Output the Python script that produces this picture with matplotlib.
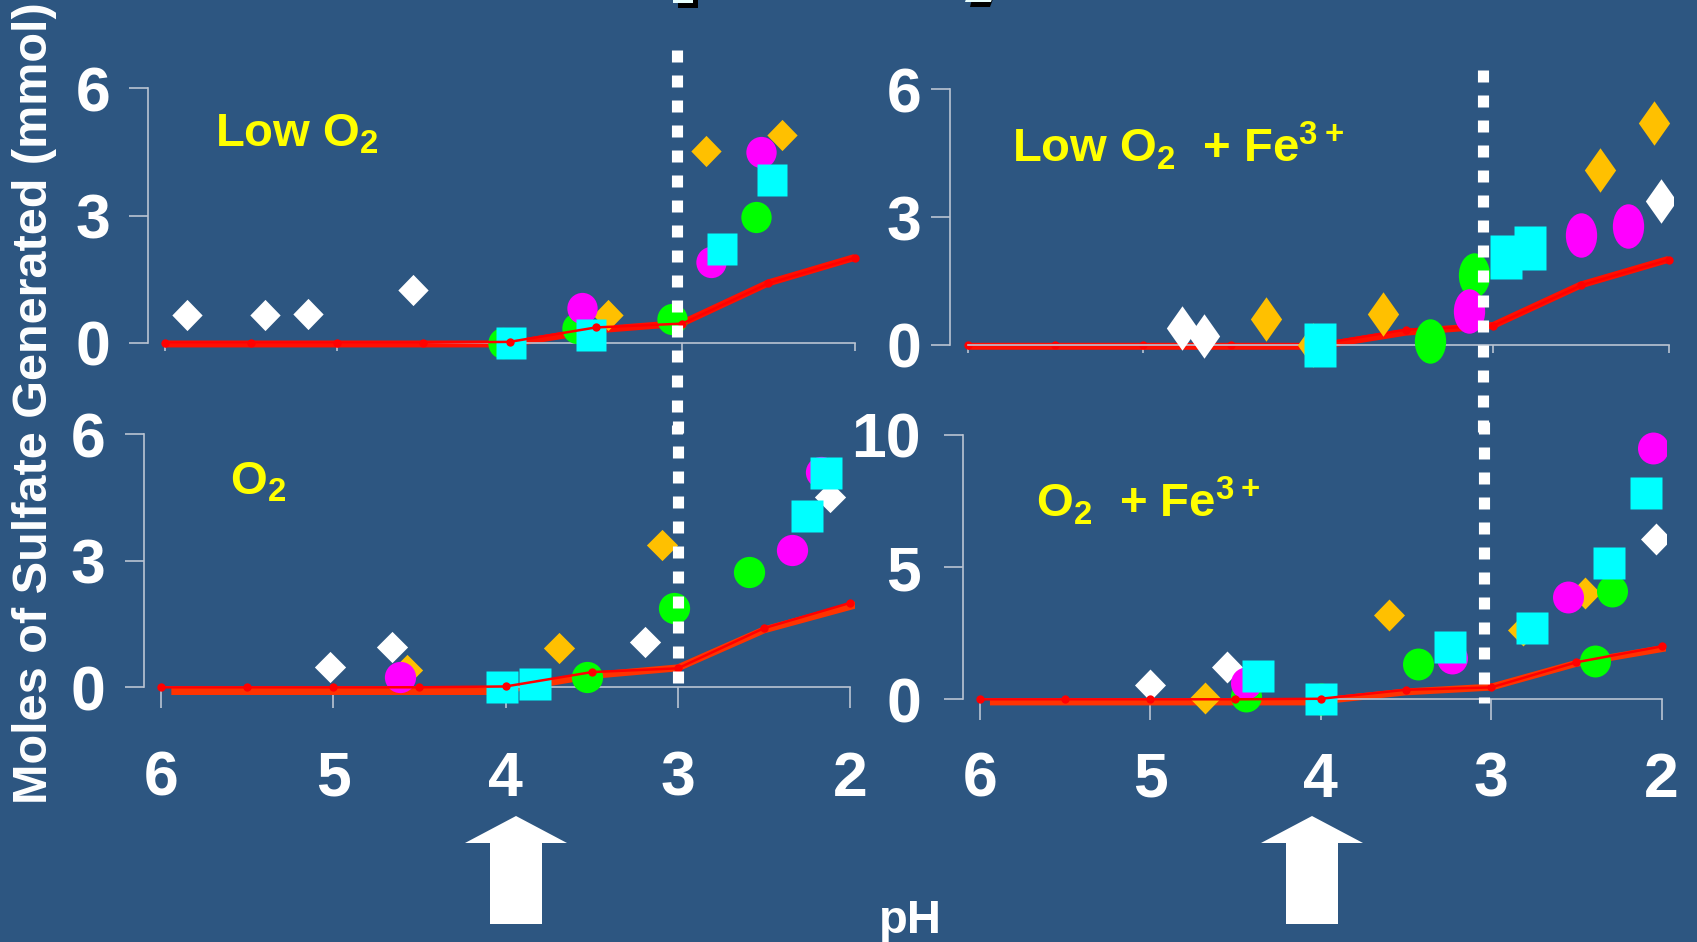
import matplotlib
matplotlib.use('Agg')
import matplotlib.pyplot as plt
from matplotlib.path import Path
from matplotlib.patches import Polygon

W, H = 1697, 942
BG = '#2D5681'

plt.rcParams['font.family'] = ['Liberation Sans', 'DejaVu Sans']
plt.rcParams['font.weight'] = 'bold'
plt.rcParams['mathtext.default'] = 'regular'

# red control line (same in all panels) and the thick trend drawn under it
ctrl_ph = [6, 5.5, 5, 4.5, 4, 3.5, 3, 2.5, 2]
ctrl_so4 = [0, 0, 0, 0, 0.02, 0.36, 0.45, 1.40, 2.0]
trend_top_ph = [6, 4.0, 3.5, 3.0, 2.5, 2.0]
trend_top_so4 = [-0.03, -0.03, 0.3, 0.46, 1.41, 2.01]
trend_bot_ph = [5.94, 4.05, 3.5, 3.0, 2.5, 1.95]
trend_bot_so4 = [-0.1, -0.1, 0.28, 0.46, 1.36, 1.97]

# Low O2
lo_white = ([5.87, 5.42, 5.17, 4.56], [0.65, 0.65, 0.68, 1.24])
lo_orange = ([3.43, 2.86, 2.42], [0.65, 4.53, 4.9])
lo_green = ([4.04, 3.61, 3.06, 2.57], [0.0, 0.34, 0.56, 2.97])
lo_magenta = ([3.58, 2.83, 2.54], [0.81, 1.91, 4.5])
lo_cyan = ([3.99, 3.53, 2.77, 2.48], [0.0, 0.17, 2.22, 3.84])

# Low O2 + Fe3+
lofe_white = ([4.78, 4.65, 2.04], [0.39, 0.2, 3.38])
lofe_orange = ([4.30, 4.03, 3.63, 2.39, 2.08], [0.61, 0.0, 0.72, 4.11, 5.22])
lofe_green = ([3.36, 3.11], [0.09, 1.64])
lofe_magenta = ([3.14, 2.50, 2.23], [0.8, 2.57, 2.80])
lofe_cyan = ([3.99, 2.93, 2.79], [0.0, 2.07, 2.27])

# O2
o2_white = ([5.02, 4.66, 3.19, 2.12], [0.49, 0.96, 1.08, 4.51])
o2_orange = ([4.57, 3.69, 3.09], [0.41, 0.92, 3.37])
o2_green = ([3.53, 3.02, 2.59], [0.24, 1.87, 2.72])
o2_magenta = ([4.61, 2.34, 2.17], [0.24, 3.25, 5.1])
o2_cyan = ([4.02, 3.83, 2.25, 2.14], [0.0, 0.09, 4.06, 5.07])

# O2 + Fe3+
o2fe_white = ([5.0, 4.55, 2.03], [0.54, 1.24, 6.05])
o2fe_orange = ([4.68, 3.60, 2.81, 2.45], [0.04, 3.19, 2.62, 4.01])
o2fe_green = ([4.44, 4.0, 3.43, 2.39, 2.29], [0.13, 0.0, 1.32, 1.46, 4.1])
o2fe_magenta = ([4.44, 3.23, 2.55, 2.05], [0.63, 1.55, 3.88, 9.52])
o2fe_cyan = ([4.37, 4.0, 3.24, 2.76, 2.31, 2.09], [0.9, 0.0, 1.99, 2.71, 5.14, 7.82])

x_ticks = [6, 5, 4, 3, 2]


def ellipse(a):
    c = Path.unit_circle()
    return Path(c.vertices * [1, a], c.codes)


def rect(a):
    return Path([[-1, -a], [1, -a], [1, a], [-1, a], [-1, -a]], closed=True)


def diamond(a):
    return Path([[0, -a], [1, 0], [0, a], [-1, 0], [0, -a]], closed=True)


def place(p6, p2, y0, ytop, vtop, xlim, ylim):
    kx = (p2 - p6) / 4.0
    left = p6 - (xlim[0] - 6) * kx
    right = p2 + (2 - xlim[1]) * kx
    ky = (y0 - ytop) / vtop
    top = y0 - ylim[1] * ky
    bot = y0 - ylim[0] * ky
    return [left / W, 1 - bot / H, (right - left) / W, (bot - top) / H]


def px(pts):
    return [(x / W, 1 - y / H) for x, y in pts]


fig = plt.figure(figsize=(W / 100, H / 100), dpi=100, facecolor=BG)

panels = [
    dict(frame=(164.8, 854.6, 342.7, 88.3, 6), ylim=(-1.0, 6.3), yt=[0, 3, 6],
         data=[lo_white, lo_orange, lo_green, lo_magenta, lo_cyan], asp=1.03, ms=22.5,
         trend=(trend_top_ph, trend_top_so4, '#FF1000'), dash=(3.03, 6.9, -2.15),
         ypad=13, xpad=30, bottom=False, ontop=True),
    dict(frame=(967.8, 1668.5, 345.0, 89.3, 6), ylim=(-1.0, 6.3), yt=[0, 3, 6],
         data=[lofe_white, lofe_orange, lofe_green, lofe_magenta, lofe_cyan], asp=1.42, ms=32,
         trend=(trend_top_ph, trend_top_so4, '#FF1000'), dash=(3.06, 6.45, -2.1),
         ypad=7, xpad=30, bottom=False, ontop=False),
    dict(frame=(161.0, 850.2, 687.3, 434.0, 6), ylim=(-1.0, 6.3), yt=[0, 3, 6],
         data=[o2_white, o2_orange, o2_green, o2_magenta, o2_cyan], asp=1.0, ms=22.5,
         trend=(trend_bot_ph, trend_bot_so4, '#FF3300'), dash=(3.0, 6.3, 0.0),
         ypad=13.5, xpad=30, bottom=True, ontop=True),
    dict(frame=(979.7, 1661.5, 699.3, 435.0, 10), ylim=(-1.6, 10.5), yt=[0, 5, 10],
         data=[o2fe_white, o2fe_orange, o2fe_green, o2fe_magenta, o2fe_cyan], asp=1.03, ms=23,
         trend=(trend_bot_ph, trend_bot_so4, '#FF3300'), dash=(3.04, 10.5, -0.14),
         ypad=16, xpad=22, bottom=True, ontop=True),
]

colors = ['#FFFFFF', '#FFC000', '#00FF00', '#FF00FF', '#00FFFF']

for p in panels:
    xlim = (6.1, 1.975)
    ax = fig.add_axes(place(*p['frame'], xlim, p['ylim']))
    ax.set_facecolor('none')
    ax.set_xlim(*xlim)
    ax.set_ylim(*p['ylim'])
    for s in ['top', 'right']:
        ax.spines[s].set_visible(False)
    for s in ['left', 'bottom']:
        ax.spines[s].set_color('#BAC4D2')
        ax.spines[s].set_linewidth(1.2)
    ax.spines['left'].set_bounds(0, p['yt'][-1])
    ax.spines['bottom'].set_bounds(2, 6)
    ax.spines['bottom'].set_position(('data', 0))
    ax.set_yticks(p['yt'])
    ax.set_xticks(x_ticks)
    ax.tick_params(axis='y', direction='out', length=14, width=1.2, color='#BAC4D2',
                   labelsize=45, labelcolor='white', pad=p['ypad'])
    if p['bottom']:
        ax.tick_params(axis='x', direction='out', length=15, width=1.2, color='#BAC4D2',
                       labelsize=45, labelcolor='white', pad=p['xpad'])
    else:
        ax.tick_params(axis='x', direction='out', length=6, width=1.2, color='#BAC4D2',
                       labelbottom=False)

    tph, tval, tcol = p['trend']
    ax.plot(tph, tval, color=tcol, lw=5, solid_capstyle='butt', zorder=2)

    shapes = [diamond(p['asp']), diamond(p['asp']), ellipse(p['asp']),
              ellipse(p['asp']), rect(p['asp'])]
    for (xs, ys), col, mk in zip(p['data'], colors, shapes):
        ax.plot(xs, ys, linestyle='none', marker=mk, ms=p['ms'], mfc=col, mec='none', zorder=3)

    ax.plot(ctrl_ph, ctrl_so4, color='#FF0000', lw=1.8, marker='o', ms=6,
            mec='none', zorder=4 if p['ontop'] else 2.5)

    dx, d1, d2 = p['dash']
    ln, = ax.plot([dx, dx], [d1, d2], color='white', lw=8, clip_on=False, zorder=5,
                  solid_capstyle='butt', dash_capstyle='butt')
    ln.set_dashes([1.08, 1.17])


def ftext(x, y, s, **kw):
    return fig.text(x / W, 1 - y / H, s, **kw)


yel = '#FFFF00'
ftext(215, 147, r'Low O$_2$', color=yel, fontsize=34, va='baseline')
ftext(1012, 162, r'Low O$_2$  + Fe$^{3+}$', color=yel, fontsize=34, va='baseline')
ftext(230, 495, r'O$_2$', color=yel, fontsize=34, va='baseline')
ftext(1036, 517, r'O$_2$  + Fe$^{3+}$', color=yel, fontsize=34, va='baseline')

ftext(35, 403, 'Moles of Sulfate Generated (mmol)', color='white', fontsize=35,
      rotation=90, ha='center', va='center')
ftext(910, 933, 'pH', color='white', fontsize=34, ha='center', va='baseline')

# fragments of the cropped slide titles along the top edge
for black, light in [([(678, -1), (698, -1), (698, 8), (678, 8)],
                      [(673, -1), (693, -1), (693, 3), (673, 3)]),
                     ([(972, -1), (993, -1), (990, 7), (970, 7)],
                      [(966, -1), (992, -1), (991, 2), (965, 2)])]:
    fig.patches.append(Polygon(px(black), closed=True, transform=fig.transFigure,
                               facecolor='black', edgecolor='none', figure=fig))
    fig.patches.append(Polygon(px(light), closed=True, transform=fig.transFigure,
                               facecolor='#E8FFFF', edgecolor='none', figure=fig))

# up arrows under pH 4
for cx in [516, 1312]:
    pts = [(cx, 816), (cx + 51, 843), (cx + 26, 843), (cx + 26, 924),
           (cx - 26, 924), (cx - 26, 843), (cx - 51, 843)]
    fig.patches.append(Polygon(px(pts), closed=True, transform=fig.transFigure,
                               facecolor='white', edgecolor='none', figure=fig))

fig.savefig('out.png', dpi=100, facecolor=BG)
